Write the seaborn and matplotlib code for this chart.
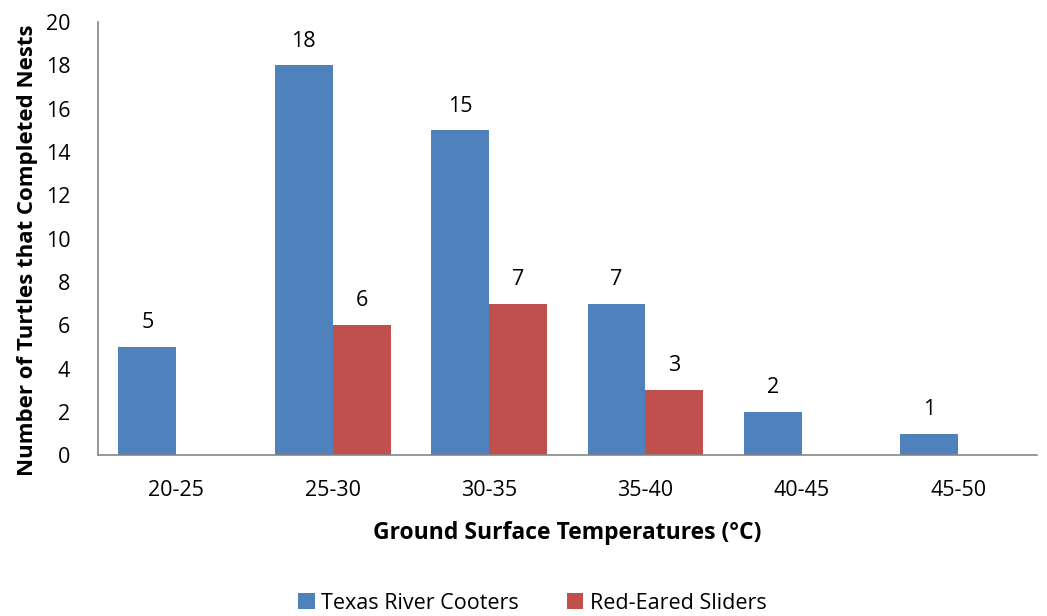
import matplotlib
matplotlib.use("Agg")
import matplotlib.pyplot as plt
import seaborn as sns
import pandas as pd

categories = ["20-25", "25-30", "30-35", "35-40", "40-45", "45-50"]
texas_river_cooters = [5, 18, 15, 7, 2, 1]
red_eared_sliders = [0, 6, 7, 3, 0, 0]
series_names = ["Texas River Cooters", "Red-Eared Sliders"]
colors = ["#4F81BD", "#C0504D"]

df = pd.DataFrame({
    "Temperature": categories * 2,
    "Count": texas_river_cooters + red_eared_sliders,
    "Species": [series_names[0]] * len(categories) + [series_names[1]] * len(categories),
})

sns.set_style("white")
plt.rcParams["font.family"] = ["Open Sans", "DejaVu Sans"]
plt.rcParams["text.color"] = "black"
plt.rcParams["axes.labelcolor"] = "black"
plt.rcParams["xtick.color"] = "black"
plt.rcParams["ytick.color"] = "black"

fig = plt.figure(figsize=(10.47, 6.16), dpi=100)
ax = fig.add_axes([0.0936, 0.261, 0.8964, 0.703])

sns.barplot(data=df, x="Temperature", y="Count", hue="Species",
            palette=colors, width=0.74, saturation=1, ax=ax, legend=True,
            edgecolor="none", linewidth=0)

for container, vals in zip(ax.containers, [texas_river_cooters, red_eared_sliders]):
    labels = [str(v) if v > 0 else "" for v in vals]
    ax.bar_label(container, labels=labels, padding=10, fontsize=15.5, color="black")

ax.set_ylim(0, 20)
ax.set_yticks(range(0, 21, 2))
ax.set_xlim(-0.5, len(categories) - 0.5)
ax.tick_params(axis="both", length=0, labelsize=15.5)
ax.tick_params(axis="x", pad=18)
ax.tick_params(axis="y", pad=20)

for side in ["top", "right"]:
    ax.spines[side].set_visible(False)
for side in ["left", "bottom"]:
    ax.spines[side].set_color("#868686")
    ax.spines[side].set_linewidth(1.2)

ax.set_xlabel("Ground Surface Temperatures (°C)", fontsize=16.5, fontweight="bold", labelpad=14)
ax.set_ylabel("Number of Turtles that Completed Nests", fontsize=16, fontweight="bold")
ax.yaxis.set_label_coords(-0.064, 0.473)

handles, labels = ax.get_legend_handles_labels()
ax.legend(handles, labels, loc="center", bbox_to_anchor=(0.463, -0.342), ncol=2,
          frameon=False, fontsize=15.5, handlelength=0.75, handleheight=0.75,
          handletextpad=0.3, columnspacing=2.25)

fig.savefig("out.png", dpi=100)
